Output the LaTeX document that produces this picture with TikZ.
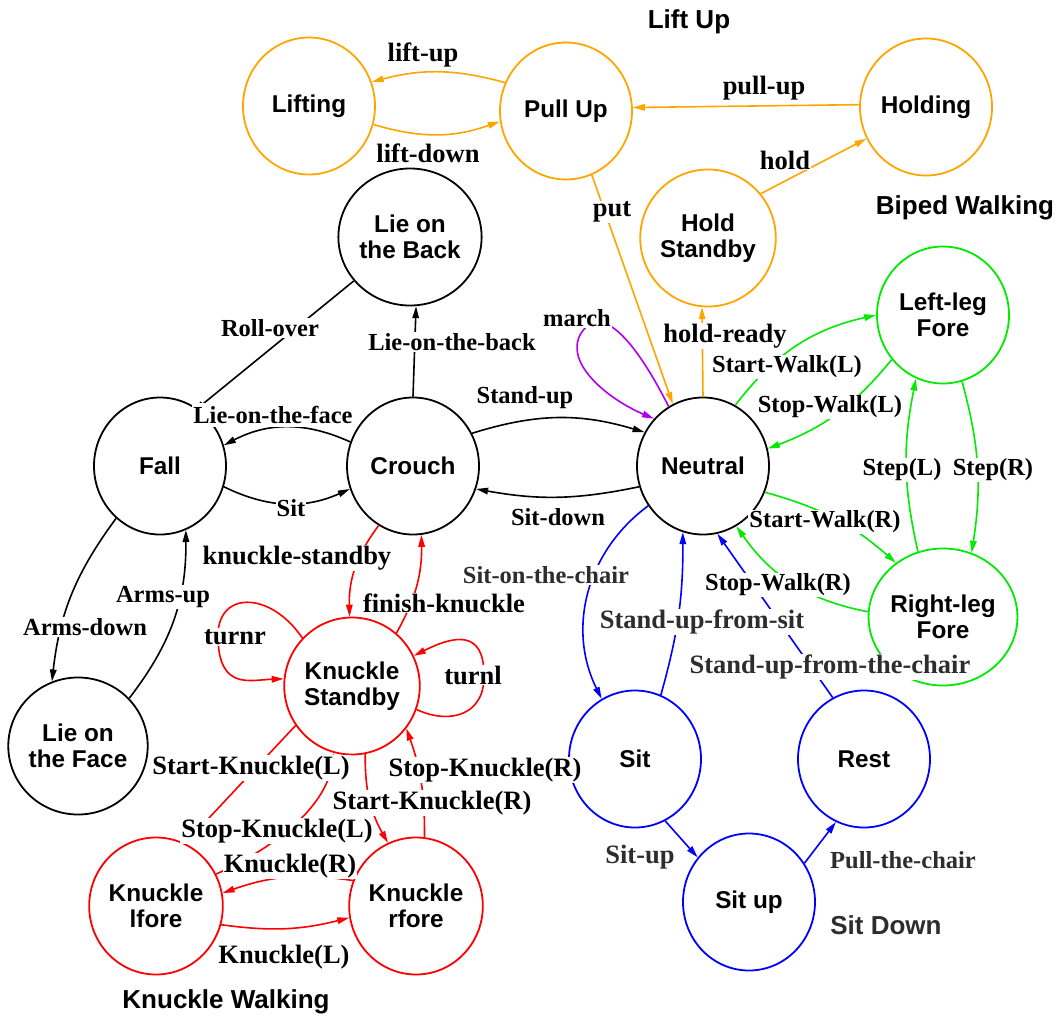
\documentclass[tikz,border=0pt]{standalone}
\usepackage{fontspec}
\setmainfont{Liberation Serif}
\newfontfamily\statefont{Liberation Sans}
\usetikzlibrary{shapes.geometric,arrows.meta}

\definecolor{cOrange}{RGB}{255,165,0}
\definecolor{cGreen}{RGB}{0,235,0}
\definecolor{cBlue}{RGB}{0,0,255}
\definecolor{cRed}{RGB}{255,0,0}
\definecolor{cPurple}{RGB}{175,0,240}
\definecolor{cGray}{RGB}{45,45,45}

\begin{document}
\begin{tikzpicture}[x=1pt,y=1pt,
  state/.style={ellipse,draw,line width=1.8pt,minimum width=132pt,minimum height=137pt,
    inner sep=0pt,align=center,font=\statefont\bfseries\fontsize{24.3}{25.5}\selectfont},
  tr/.style={line width=1.6pt,-{Triangle[length=12pt,width=6.5pt]}},
  lbl/.style={fill=white,inner sep=1pt,font=\bfseries\fontsize{24.5}{26}\selectfont},
  lblL/.style={lbl,font=\bfseries\fontsize{26.5}{28}\selectfont},
  grp/.style={font=\statefont\bfseries\fontsize{26}{28}\selectfont},
]
\useasboundingbox (0,0) rectangle (1058,-1017);

% ---- states ----
\node[state,draw=cOrange] (lifting)  at (309,-106) {Lifting};
\node[state,draw=cOrange] (pullup)   at (566,-111) {Pull Up};
\node[state,draw=cOrange] (holding)  at (926,-107) {Holding};
\node[state,draw=cOrange] (holdsb)   at (708,-238) {Hold\\Standby};
\node[state] (lieback) at (410,-237) {Lie on\\the Back};
\node[state] (fall)    at (160,-466) {Fall};
\node[state] (crouch)  at (413,-466) {Crouch};
\node[state] (neutral) at (703,-466) {Neutral};
\node[state] (lieface) at (78,-746)  {Lie on\\the Face};
\node[state,draw=cGreen] (leftleg)  at (943,-315) {Left-leg\\Fore};
\node[state,draw=cGreen] (rightleg) at (943,-617) {Right-leg\\Fore};
\node[state,draw=cRed] (kstand) at (352,-686) {Knuckle\\Standby};
\node[state,draw=cRed] (klfore) at (156,-906) {Knuckle\\lfore};
\node[state,draw=cRed] (krfore) at (416,-906) {Knuckle\\rfore};
\node[state,draw=cBlue] (sit)   at (635,-759) {Sit};
\node[state,draw=cBlue] (rest)  at (864,-759) {Rest};
\node[state,draw=cBlue] (situp) at (749,-902) {Sit up};

% ---- lift up ----
\draw[tr,cOrange] (pullup.155) to[bend right=15] (lifting.21);
\draw[tr,cOrange] (lifting.-16) to[bend right=18] (pullup.-171);
\draw[tr,cOrange] (holding.178) -- (pullup.3);
\draw[tr,cOrange] (holdsb.40) -- (holding.-152);
\draw[tr,cOrange] (pullup.-68) -- (neutral.116);
\draw[tr,cOrange] (neutral.90) -- (holdsb.-95);

% ---- march loop ----
\draw[tr,cPurple] (neutral.120) .. controls (635,-340) and (600,-300) .. (580,-335)
  .. controls (565,-365) and (610,-400) .. (neutral.136);

% ---- posture changes ----
\draw[tr] (crouch.90) -- (lieback.-85);
\draw[tr,shorten >=-5pt] (lieback.-142) -- (fall.57);
\draw[tr] (crouch.159) to[bend right=26] (fall.18);
\draw[tr] (fall.-18) to[bend right=25] (crouch.-160);
\draw[tr] (crouch.29) to[bend left=17] (neutral.150);
\draw[tr] (neutral.-162) to[bend left=11] (crouch.-20);
\draw[tr] (fall.-130) to[bend right=15] (lieface.112);
\draw[tr] (lieface.43) to[bend right=19] (fall.-68);

% ---- knuckle walking ----
\draw[tr,cRed] (crouch.-120) to[bend right=19] (kstand.92);
\draw[tr,cRed] (kstand.50) to[bend right=15] (crouch.-83);
\draw[tr,cRed] (kstand.136) .. controls (270,-590) and (215,-590) .. (218,-640)
  .. controls (220,-690) and (250,-680) .. (kstand.174);
\draw[tr,cRed] (kstand.-20) .. controls (450,-725) and (485,-715) .. (484,-675)
  .. controls (484,-630) and (455,-635) .. (kstand.26);
\draw[tr,cRed] (kstand.-145) -- (klfore.65);
\draw[tr,cRed] (klfore.28) .. controls (270,-850) and (325,-810) .. (kstand.-105);
\draw[tr,cRed] (kstand.-79) to[bend right=15] (krfore.114);
\draw[tr,cRed] (krfore.83) to[bend right=10] (kstand.-38);
\draw[tr,cRed] (krfore.158) to[bend right=14] (klfore.11);
\draw[tr,cRed] (klfore.-16) to[bend right=11] (krfore.-170);

% ---- sit down ----
\draw[tr,cBlue] (neutral.-144) to[bend right=40] (sit.119);
\draw[tr,cBlue] (sit.68) to[bend right=8] (neutral.-107);
\draw[tr,cBlue] (rest.117) -- (neutral.-78);
\draw[tr,cBlue] (sit.-64) -- (situp.139);
\draw[tr,cBlue] (situp.35) -- (rest.-114);

% ---- biped walking ----
\draw[tr,cGreen] (neutral.62) to[bend left=20] (leftleg.180);
\draw[tr,cGreen] (leftleg.-139) to[bend left=15] (neutral.15);
\draw[tr,cGreen] (neutral.-23) to[bend left=13] (rightleg.131);
\draw[tr,cGreen] (rightleg.176) to[bend left=22] (neutral.-61);
\draw[tr,cGreen] (leftleg.-74) to[bend left=12] (rightleg.66);
\draw[tr,cGreen] (rightleg.111) to[bend left=12] (leftleg.-113);

% ---- transition labels ----
\node[lblL] (l-liftup)   at (423,-55)  {lift-up};
\node[lblL] (l-liftdown) at (428,-153) {lift-down};
\node[lblL] (l-pullup)   at (764,-88)  {pull-up};
\node[lblL] (l-hold)     at (785,-160) {hold};
\node[lblL] (l-put)      at (612,-212) {put};
\node[lblL] (l-holdrdy)  at (725,-336) {hold-ready};
\node[lbl] (l-march)     at (577,-318) {march};
\node[lbl] (l-roll)      at (270,-328) {Roll-over};
\node[lbl] (l-lieback)   at (452,-342) {Lie-on-the-back};
\node[lbl,inner ysep=3pt] (l-lieface) at (273,-415) {Lie-on-the-face};
\node[lbl] (l-standup)   at (525,-398) {Stand-up};
\node[lbl] (l-sit)       at (291,-508) {Sit};
\node[lbl] (l-sitdown)   at (558,-517) {Sit-down};
\node[lbl] (l-armsdown)  at (85,-627)  {Arms-down};
\node[lbl] (l-armsup)    at (163,-597) {Arms-up};
\node[lblL] (l-kstandby) at (297,-558) {knuckle-standby};
\node[lblL] (l-finish)   at (444,-603) {finish-knuckle};
\node[lblL] (l-turnr)    at (235,-637) {turnr};
\node[lblL] (l-turnl)    at (473,-675) {turnl};
\node[lblL] (l-startkl)  at (251,-768) {Start-Knuckle(L)};
\node[lblL] (l-stopkr)   at (485,-770) {Stop-Knuckle(R)};
\node[lblL] (l-startkr)  at (432,-803) {Start-Knuckle(R)};
\node[lblL] (l-stopkl)   at (277,-831) {Stop-Knuckle(L)};
\node[lblL] (l-kr)       at (290,-866) {Knuckle(R)};
\node[lblL] (l-kl)       at (284,-957) {Knuckle(L)};
\node[lbl,text=cGray]  (l-sitchair)  at (546,-575) {Sit-on-the-chair};
\node[lblL,text=cGray] (l-standsit)  at (702,-622) {Stand-up-from-sit};
\node[lblL,text=cGray] (l-standchr)  at (830,-667) {Stand-up-from-the-chair};
\node[lblL,text=cGray] (l-situp)     at (640,-857) {Sit-up};
\node[lbl,text=cGray]  (l-pull)      at (903,-860) {Pull-the-chair};
\node[lbl] (l-startwl) at (787,-367) {Start-Walk(L)};
\node[lbl] (l-stopwl)  at (830,-407) {Stop-Walk(L)};
\node[lbl] (l-stepl)   at (902,-470) {Step(L)};
\node[lbl] (l-stepr)   at (993,-470) {Step(R)};
\node[lbl] (l-startwr) at (825,-522) {Start-Walk(R)};
\node[lbl] (l-stopwr)  at (778,-585) {Stop-Walk(R)};

% ---- group titles ----
\node[grp] (g-lift)    at (689,-22)   {Lift Up};
\node[grp] (g-biped)   at (965,-208)  {Biped Walking};
\node[grp,text=cGray] (g-sit) at (886,-925) {Sit Down};
\node[grp] (g-knuckle) at (226,-1002) {Knuckle Walking};
\end{tikzpicture}
\end{document}
